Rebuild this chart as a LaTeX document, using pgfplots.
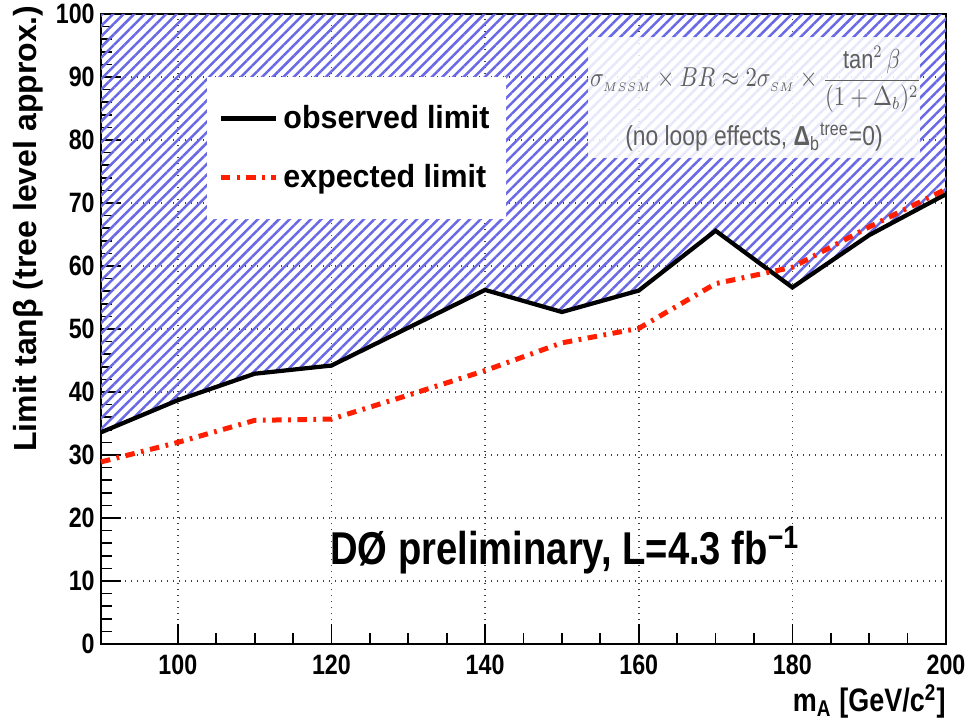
\documentclass[border=0pt]{standalone}
\usepackage{pgfplots}
\pgfplotsset{compat=1.18}
\usepackage{graphicx}
\usepackage{fontspec}
\setmainfont{Liberation Sans}
\newfontfamily\narrowfont{Liberation Sans}[FakeStretch=0.83]
\newfontfamily\legfont{Liberation Sans}[FakeStretch=0.95]
\usetikzlibrary{patterns.meta,calc}
\definecolor{hatchblue}{RGB}{105,105,230}
\definecolor{expred}{RGB}{255,30,0}
\definecolor{formgray}{RGB}{95,95,95}
\begin{document}
\begin{tikzpicture}
\begin{axis}[
  name=ax,
  scale only axis,
  width=338pt, height=252pt,
  xmin=90, xmax=200, ymin=0, ymax=100,
  xtick={100,120,...,200},
  ytick={0,10,...,100},
  minor x tick num=3,
  minor y tick num=4,
  tick pos=left,
  tick align=inside,
  major tick length=8pt,
  minor tick length=4.5pt,
  axis line style={line width=0.9pt},
  tick style={line width=0.7pt, black},
  grid=major,
  major grid style={dotted, line width=0.7pt, black!75},
  /pgf/number format/assume math mode=true,
  ticklabel style={font=\narrowfont\bfseries\fontsize{11.2}{13}\selectfont},
  xticklabel style={yshift=-1pt},
  yticklabel style={xshift=1pt},
  ylabel={Limit tanβ (tree level approx.)},
  ylabel style={font=\bfseries\fontsize{12.8}{14}\selectfont, inner sep=0pt,
    at={($(rel axis cs:0,1)+(-22.8pt,3.6pt)$)}, anchor=south east},
  xlabel={m\textsubscript{A} [GeV/c\textsuperscript{2}]},
  xlabel style={font=\narrowfont\bfseries\fontsize{13}{15}\selectfont, inner sep=0pt,
    at={($(rel axis cs:1,0)+(0pt,-16pt)$)}, anchor=north east},
  legend style={at={(0.1254,0.9)}, anchor=north west, draw=none, fill=white,
    font=\legfont\bfseries\fontsize{12.8}{14}\selectfont,
    inner xsep=4.4pt, inner ysep=9pt, row sep=9pt,
    /tikz/every even column/.append style={column sep=2pt}},
  legend cell align=left,
  legend image code/.code={\draw[#1] (0pt,0pt) -- (22pt,0pt);},
  clip=false,
]
% excluded region (hatched)
\addplot[draw=none, forget plot,
  pattern={Lines[angle=45,distance=3pt,line width=1pt]}, pattern color=hatchblue]
  coordinates {(90,100) (90,33.6) (100,38.7) (110,42.9) (120,44.2) (130,50.2)
  (140,56.2) (150,52.7) (160,56.1) (170,65.6) (180,56.6) (190,64.9) (200,71.4) (200,100)};
% formula box
\fill[white, fill opacity=0.85] (axis cs:153.4,77.1) rectangle (axis cs:196.6,96.3);
\node[text=formgray, font=\fontsize{10.5}{12}\selectfont] at (axis cs:175.2,89.6)
  {\scalebox{0.83}[1]{$\displaystyle \sigma_{\scriptscriptstyle MSSM}\times BR\approx 2\sigma_{\scriptscriptstyle SM}\times\frac{\tan^{2}\beta}{(1+\Delta_{b})^{2}}$}};
\node[text=formgray, font=\narrowfont\fontsize{11}{13}\selectfont] at (axis cs:175.0,80.4)
  {(no loop effects, \textbf{Δ}\textsubscript{b}\textsuperscript{tree}=0)};
\addplot[black, line width=1.7pt] coordinates {
  (90,33.6) (100,38.7) (110,42.9) (120,44.2) (130,50.2) (140,56.2)
  (150,52.7) (160,56.1) (170,65.6) (180,56.6) (190,64.9) (200,71.4)};
\addlegendentry{observed limit}
\addplot[expred, line width=2pt, dash pattern=on 3.8pt off 2.6pt on 1.1pt off 2.6pt] coordinates {
  (90,28.9) (100,32.0) (110,35.5) (120,35.7) (130,39.5) (140,43.4)
  (150,47.8) (160,50.1) (170,57.2) (180,59.8) (190,66.2) (200,72.2)};
\addlegendentry{expected limit}
\node[anchor=base west, inner sep=0pt, font=\narrowfont\bfseries\fontsize{18.4}{20}\selectfont]
  at (axis cs:119.8,12.65) {DØ preliminary, L=4.3 fb\textsuperscript{−1}};
\end{axis}
\pgfresetboundingbox
\path ($(ax.south west)+(-40.4pt,-30.8pt)$) rectangle ($(ax.north east)+(8.4pt,5.6pt)$);
\end{tikzpicture}
\end{document}
